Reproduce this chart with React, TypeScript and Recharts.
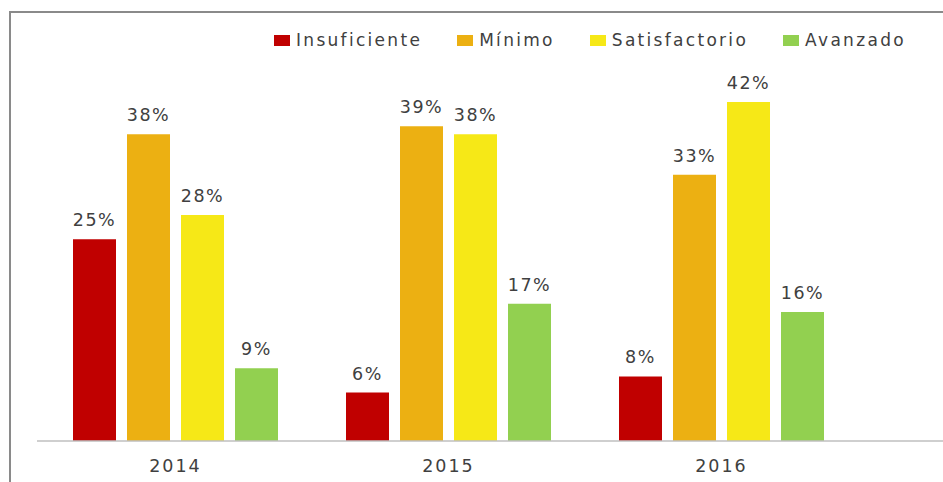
import { BarChart, Bar, XAxis, YAxis, Legend, LabelList } from "recharts";

const YEARS = ["2014", "2015", "2016"];
const INSUFICIENTE = [25, 6, 8];
const MINIMO = [38, 39, 33];
const SATISFACTORIO = [28, 38, 42];
const AVANZADO = [9, 17, 16];

const SERIES = [
  { key: "Insuficiente", values: INSUFICIENTE, color: "#C00000" },
  { key: "Mínimo", values: MINIMO, color: "#ECB012" },
  { key: "Satisfactorio", values: SATISFACTORIO, color: "#F6E817" },
  { key: "Avanzado", values: AVANZADO, color: "#92D050" },
];

const FONT = "'DejaVu Sans', Verdana, sans-serif";

const data = YEARS.map((year, i) => {
  const row: Record<string, string | number> = { year };
  SERIES.forEach((s) => {
    row[s.key] = s.values[i];
  });
  return row;
});

function LegendContent() {
  return (
    <div style={{ display: "flex", alignItems: "center", marginLeft: 274, fontFamily: FONT }}>
      {SERIES.map((s) => (
        <div key={s.key} style={{ display: "flex", alignItems: "center", marginRight: 35 }}>
          <span style={{ width: 16, height: 11, background: s.color, display: "inline-block", marginRight: 6 }} />
          <span style={{ fontSize: 17, letterSpacing: 2.3, color: "#404040", lineHeight: "20px" }}>{s.key}</span>
        </div>
      ))}
    </div>
  );
}

export default function App() {
  return (
    <div style={{ position: "absolute", left: 0, top: 0, width: 943, height: 482, overflow: "hidden", background: "#fff" }}>
      <div
        style={{
          position: "absolute",
          left: 9,
          top: 11,
          width: 1000,
          height: 600,
          border: "2px solid #8a8a8a",
          boxSizing: "border-box",
        }}
      />
      <BarChart
        width={943}
        height={482}
        data={data}
        margin={{ top: 37.5, right: 0, left: 37, bottom: 11 }}
        barSize={43}
        barGap={11}
        style={{ position: "absolute", left: 0, top: 0 }}
      >
        <XAxis
          dataKey="year"
          height={30}
          padding={{ left: 2, right: 85 }}
          axisLine={{ stroke: "#BFBFBF", strokeWidth: 1.5 }}
          tickLine={false}
          tickSize={0}
          tickMargin={19}
          tick={{ fontSize: 17.5, fill: "#404040", fontFamily: FONT, letterSpacing: 2 }}
        />
        <YAxis hide domain={[0, 50]} />
        <Legend
          layout="horizontal"
          verticalAlign="middle"
          align="center"
          wrapperStyle={{ top: 30, left: 0, width: 943 }}
          content={<LegendContent />}
        />
        {SERIES.map((s) => (
          <Bar key={s.key} dataKey={s.key} fill={s.color} isAnimationActive={false}>
            <LabelList
              dataKey={s.key}
              position="top"
              offset={13}
              formatter={(v: number) => `${v}%`}
              style={{ fontSize: 17.5, fill: "#404040", fontFamily: FONT, letterSpacing: 1.5 }}
            />
          </Bar>
        ))}
      </BarChart>
    </div>
  );
}
